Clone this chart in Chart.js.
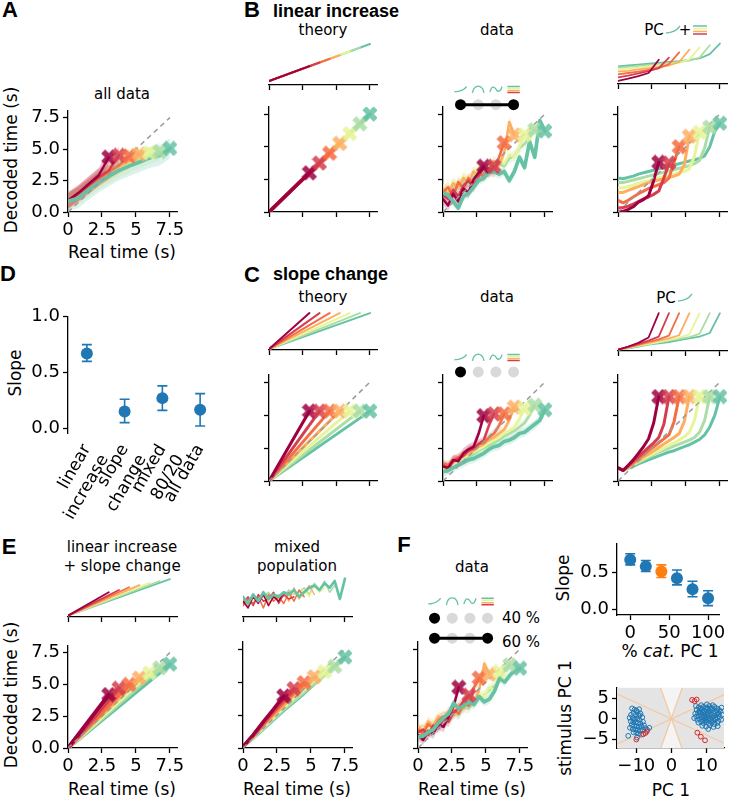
<!DOCTYPE html>
<html lang="en">
<head>
<meta charset="UTF-8">
<title>Decoded time</title>
<script src="https://cdn.jsdelivr.net/npm/chart.js@4.4.1/dist/chart.umd.min.js"></script>
<style>
  html, body { margin: 0; padding: 0; background: #fff; }
  #fig { position: relative; width: 730px; height: 798px; overflow: hidden; font-family: 'DejaVu Sans', sans-serif; color: #000; }
  .t { position: absolute; white-space: nowrap; transform: translate(-50%, -50%); line-height: 1; }
  .lab { font-size: 17px; }
  .ttl { font-size: 15px; }
  .letter { font-family: 'Liberation Sans', Arial, sans-serif; font-weight: bold; font-size: 22px; }
  .bold { font-family: 'Liberation Sans', Arial, sans-serif; font-weight: bold; font-size: 18px; transform: translate(0, -50%); }
  .rot { transform: translate(-50%, -50%) rotate(-90deg); }
  canvas { position: absolute; }
</style>
</head>
<body>
<div id="fig">
  <div class="t letter" style="left:10px;top:10px">A</div>
  <div class="t letter" style="left:252px;top:10px">B</div>
  <div class="t bold" style="left:273px;top:11px">linear increase</div>
  <div class="t ttl" style="left:122px;top:94px">all data</div>
  <div class="t ttl" style="left:323px;top:30px">theory</div>
  <div class="t ttl" style="left:497px;top:30px">data</div>
  <div class="t ttl" style="left:654px;top:30px">PC</div>
  <div class="t ttl" style="left:685px;top:30px">+</div>
  <div class="t lab rot" style="left:11px;top:160px">Decoded time (s)</div>
  <div class="t lab" style="left:122px;top:252px">Real time (s)</div>

  <div class="t letter" style="left:8px;top:274px">D</div>
  <div class="t letter" style="left:252px;top:275px">C</div>
  <div class="t bold" style="left:273px;top:274px">slope change</div>
  <div class="t ttl" style="left:323px;top:297px">theory</div>
  <div class="t ttl" style="left:497px;top:297px">data</div>
  <div class="t ttl" style="left:666px;top:298px">PC</div>
  <div class="t lab rot" style="left:15px;top:373px">Slope</div>

  <div class="t letter" style="left:9px;top:547px">E</div>
  <div class="t ttl" style="left:122px;top:547px">linear increase</div>
  <div class="t ttl" style="left:122px;top:566px">+ slope change</div>
  <div class="t ttl" style="left:297px;top:547px">mixed</div>
  <div class="t ttl" style="left:297px;top:566px">population</div>
  <div class="t letter" style="left:404px;top:545px">F</div>
  <div class="t ttl" style="left:472px;top:567px">data</div>
  <div class="t ttl" style="left:521px;top:618px">40 %</div>
  <div class="t ttl" style="left:521px;top:642px">60 %</div>
  <div class="t lab rot" style="left:11px;top:695px">Decoded time (s)</div>
  <div class="t lab" style="left:122px;top:789px">Real time (s)</div>
  <div class="t lab" style="left:297px;top:789px">Real time (s)</div>
  <div class="t lab" style="left:472px;top:789px">Real time (s)</div>
  <div class="t lab rot" style="left:563px;top:578px">Slope</div>
  <div class="t lab" style="left:670px;top:651px">% <i>cat.</i> PC 1</div>
  <div class="t lab rot" style="left:565px;top:718px">stimulus PC 1</div>
  <div class="t lab" style="left:671px;top:790px">PC 1</div>
</div>

<script>
// ---------- data ----------
const durations = [3, 3.75, 4.5, 5.25, 6, 6.75, 7.5];
const colors = ['#9e0142', '#d53e4f', '#f46d43', '#fdae61', '#e6f598', '#abdda4', '#66c2a5'];
const tCoarse = [0, 0.75, 1.5, 2.25, 3, 3.75, 4.5, 5.25, 6, 6.75, 7.5];
const tFine = [0, 0.375, 0.75, 1.125, 1.5, 1.875, 2.25, 2.625, 3, 3.375, 3.75, 4.125, 4.5, 4.875, 5.25, 5.625, 6, 6.375, 6.75, 7.125, 7.5];
const timeTicks = [0, 2.5, 5, 7.5];
const timeTickLabels = ['0', '2.5', '5', '7.5'];
const decodedTickLabels = ['0.0', '2.5', '5.0', '7.5'];
const diagonal = [0, 7.5];

// A: all data (coarse grid)
const allDataCurves = [
  [0.9, 1.5, 2.2, 2.9, 4.35],
  [0.9, 1.45, 2.1, 2.75, 3.3, 4.5],
  [0.85, 1.4, 2.05, 2.65, 3.2, 3.7, 4.45],
  [0.9, 1.4, 2.0, 2.6, 3.1, 3.6, 4.0, 4.6],
  [0.85, 1.35, 1.95, 2.55, 3.05, 3.5, 3.9, 4.3, 4.7],
  [0.85, 1.3, 1.9, 2.45, 2.95, 3.4, 3.8, 4.15, 4.5, 4.8],
  [0.85, 1.1, 1.75, 2.35, 2.85, 3.3, 3.65, 3.95, 4.3, 4.5, 5.05]
];
const allDataMarkers = [4.35, 4.5, 4.45, 4.6, 4.7, 4.8, 5.05];
const allDataErr = [0.6, 0.7, 0.6, 0.6, 0.6, 0.7, 0.8];

// B: linear increase
const linTheoryEnd = [3, 3.75, 4.5, 5.25, 6, 6.75, 7.5];
const linTheoryMiniStart = 0.09;
const linTheoryMiniEnd = [0.42, 0.5, 0.58, 0.66, 0.75, 0.83, 0.91];
const linDataCurves = [
  [1.0, 0.5, 1.4, 0.8, 1.8, 1.5, 2.5, 3.0, 3.5],
  [1.3, 1.0, 1.7, 1.2, 2.0, 2.4, 1.9, 2.8, 3.4, 3.0, 3.5],
  [1.5, 1.9, 1.2, 2.3, 1.8, 2.6, 2.2, 3.0, 2.7, 3.3, 3.0, 4.2, 5.3],
  [1.8, 1.4, 2.2, 1.9, 2.6, 2.3, 3.1, 2.8, 3.4, 3.2, 3.9, 3.6, 4.5, 6.9, 5.9],
  [2.0, 1.6, 2.3, 2.0, 2.7, 2.5, 3.0, 3.4, 3.1, 3.6, 3.4, 3.9, 3.7, 4.4, 4.2, 5.0, 5.9],
  [1.7, 1.3, 2.0, 1.8, 2.4, 2.2, 2.8, 3.1, 2.9, 3.4, 3.2, 3.7, 3.5, 4.1, 4.3, 4.9, 5.2, 5.8, 6.3],
  [1.45, 1.3, 0.8, 0.3, 1.2, 1.4, 1.9, 2.4, 2.6, 3.0, 3.1, 2.9, 3.1, 2.4, 3.1, 4.2, 3.4, 5.4, 4.2, 7.0, 6.2]
];
const linDataMarkers = [3.5, 3.5, 5.3, 5.9, 5.9, 6.3, 6.2];
const linDataErr = [0.45, 0.4, 0.4, 0.4, 0.4, 0.4, 0.35];
const linPcCurves = [
  [0.0, 0.05, 0.2, 0.4, 0.75, 0.95, 1.25, 2.4, 3.8],
  [0.3, 0.35, 0.45, 0.6, 0.8, 1.0, 1.15, 1.35, 1.6, 2.6, 3.7],
  [0.9, 0.7, 0.9, 1.15, 1.4, 1.6, 1.8, 1.95, 2.1, 2.25, 2.6, 3.8, 5.0],
  [1.5, 1.5, 1.65, 1.8, 1.95, 2.1, 2.25, 2.35, 2.45, 2.55, 2.65, 2.75, 2.9, 3.6, 5.8],
  [1.85, 1.85, 1.95, 2.05, 2.2, 2.3, 2.4, 2.5, 2.6, 2.7, 2.8, 2.9, 3.0, 3.1, 3.3, 4.3, 6.1],
  [2.25, 2.25, 2.35, 2.45, 2.55, 2.65, 2.75, 2.85, 2.95, 3.05, 3.15, 3.25, 3.35, 3.45, 3.55, 3.7, 3.95, 4.9, 6.5],
  [2.6, 2.55, 2.65, 2.75, 2.9, 3.0, 3.1, 3.2, 3.3, 3.4, 3.5, 3.6, 3.7, 3.8, 3.9, 4.0, 4.1, 4.3, 5.0, 6.2, 6.8]
];
const linPcMarkers = [3.8, 3.75, 5.0, 5.8, 6.1, 6.5, 6.8];
const linPcMini = [
  [0.07, 0.12, 0.18, 0.25, 0.55],
  [0.15, 0.19, 0.24, 0.29, 0.36, 0.6],
  [0.22, 0.25, 0.28, 0.32, 0.36, 0.45, 0.72],
  [0.28, 0.3, 0.33, 0.36, 0.39, 0.42, 0.5, 0.78],
  [0.33, 0.35, 0.37, 0.4, 0.42, 0.45, 0.48, 0.56, 0.83],
  [0.37, 0.39, 0.41, 0.43, 0.45, 0.48, 0.5, 0.53, 0.6, 0.88],
  [0.4, 0.42, 0.44, 0.46, 0.48, 0.5, 0.52, 0.55, 0.58, 0.68, 0.92]
];

// C: slope change
const slopeTheoryEnd = [5.3, 5.3, 5.3, 5.3, 5.3, 5.3, 5.3];
const slopeTheoryMiniStart = 0.02;
const slopeTheoryMiniEnd = [0.82, 0.82, 0.82, 0.82, 0.82, 0.82, 0.82];
const slopeDataCurves = [
  [1.1, 1.0, 1.6, 1.5, 2.1, 2.4, 2.6, 3.6, 4.95],
  [1.2, 0.9, 1.5, 1.7, 1.9, 2.3, 2.5, 2.8, 3.1, 4.2, 5.1],
  [1.3, 1.2, 1.6, 1.8, 2.0, 2.3, 2.4, 2.8, 2.9, 3.3, 3.6, 4.2, 5.1],
  [1.0, 1.1, 1.4, 1.6, 1.9, 2.1, 2.3, 2.6, 2.8, 3.1, 3.3, 3.6, 3.9, 4.6, 5.6],
  [0.9, 1.0, 1.3, 1.5, 1.8, 2.0, 2.2, 2.4, 2.6, 2.9, 3.1, 3.3, 3.6, 3.8, 4.1, 4.7, 5.5],
  [0.8, 0.9, 1.2, 1.4, 1.6, 1.8, 2.0, 2.3, 2.5, 2.7, 2.9, 3.1, 3.4, 3.6, 3.8, 4.1, 4.4, 5.0, 5.75],
  [0.7, 0.8, 1.0, 1.2, 1.4, 1.6, 1.7, 1.9, 2.1, 2.4, 2.6, 2.7, 3.0, 3.1, 3.3, 3.6, 3.7, 4.0, 4.3, 4.6, 5.4]
];
const slopeDataMarkers = [4.95, 5.1, 5.1, 5.6, 5.5, 5.75, 5.4];
const slopeDataErr = [0.4, 0.35, 0.35, 0.35, 0.35, 0.35, 0.35];
const slopePcCurves = [
  [1.0, 0.8, 1.2, 1.6, 2.1, 2.6, 3.2, 4.4, 6.4],
  [1.0, 0.8, 1.15, 1.5, 1.85, 2.2, 2.55, 2.9, 3.3, 4.3, 6.4],
  [1.0, 0.8, 1.1, 1.4, 1.7, 2.0, 2.3, 2.6, 2.9, 3.2, 3.5, 4.5, 6.4],
  [1.0, 0.8, 1.05, 1.3, 1.55, 1.8, 2.05, 2.3, 2.55, 2.8, 3.05, 3.3, 3.6, 4.5, 6.4],
  [1.0, 0.8, 1.0, 1.25, 1.5, 1.7, 1.9, 2.1, 2.3, 2.5, 2.7, 2.9, 3.1, 3.35, 3.7, 4.6, 6.4],
  [1.0, 0.8, 1.0, 1.2, 1.4, 1.6, 1.8, 2.0, 2.2, 2.35, 2.5, 2.65, 2.8, 2.95, 3.1, 3.3, 3.7, 4.6, 6.4],
  [1.0, 0.8, 0.95, 1.1, 1.3, 1.45, 1.6, 1.75, 1.9, 2.05, 2.2, 2.3, 2.45, 2.6, 2.75, 2.95, 3.15, 3.5, 4.1, 5.0, 6.4]
];
const slopePcMarkers = [6.4, 6.4, 6.4, 6.4, 6.4, 6.4, 6.4];
const slopePcMini = [
  [0.03, 0.1, 0.18, 0.3, 0.84],
  [0.03, 0.09, 0.16, 0.23, 0.32, 0.84],
  [0.03, 0.08, 0.14, 0.2, 0.26, 0.34, 0.84],
  [0.03, 0.08, 0.13, 0.18, 0.23, 0.28, 0.35, 0.84],
  [0.03, 0.07, 0.12, 0.16, 0.2, 0.25, 0.3, 0.37, 0.84],
  [0.03, 0.07, 0.11, 0.15, 0.19, 0.23, 0.27, 0.31, 0.38, 0.84],
  [0.03, 0.06, 0.1, 0.14, 0.17, 0.2, 0.24, 0.28, 0.32, 0.4, 0.84]
];

// D: slope summary
const dCategories = [['linear', 'increase'], ['slope', 'change'], ['mixed', '80/20'], 'all data'];
const dSlope = [0.67, 0.15, 0.27, 0.165];
const dLow = [0.60, 0.05, 0.16, 0.02];
const dHigh = [0.75, 0.26, 0.38, 0.31];

// E: model mixtures
const comboEnd = [4.2, 4.7, 5.0, 5.5, 5.9, 6.3, 6.6];
const comboMiniStart = 0.03;
const comboMiniEnd = [0.55, 0.6, 0.66, 0.71, 0.76, 0.8, 0.84];
const mixedCurves = [
  [0.1, 1.0, 2.0, 2.95, 3.95],
  [0.1, 0.95, 1.9, 2.8, 3.65, 4.5],
  [0.1, 0.9, 1.8, 2.65, 3.45, 4.2, 4.95],
  [0.1, 0.85, 1.7, 2.5, 3.25, 4.0, 4.7, 5.4],
  [0.1, 0.8, 1.6, 2.35, 3.1, 3.8, 4.45, 5.15, 5.8],
  [0.1, 0.8, 1.5, 2.2, 2.95, 3.6, 4.25, 4.9, 5.55, 6.2],
  [0.1, 0.75, 1.45, 2.15, 2.85, 3.5, 4.15, 4.85, 5.55, 6.2, 6.9]
];
const mixedMarkers = [3.95, 4.5, 4.95, 5.4, 5.8, 6.2, 6.9];
const mixedMini = [
  [0.35, 0.2, 0.45, 0.3, 0.5, 0.25, 0.45, 0.35, 0.55],
  [0.3, 0.45, 0.25, 0.5, 0.35, 0.4, 0.55, 0.3, 0.5, 0.4, 0.45],
  [0.25, 0.4, 0.3, 0.45, 0.2, 0.5, 0.35, 0.45, 0.3, 0.55, 0.35, 0.6, 0.45],
  [0.4, 0.25, 0.45, 0.35, 0.5, 0.3, 0.45, 0.4, 0.55, 0.35, 0.65, 0.4, 0.55, 0.7, 0.5],
  [0.3, 0.45, 0.35, 0.4, 0.5, 0.35, 0.55, 0.4, 0.5, 0.45, 0.55, 0.5, 0.6, 0.45, 0.7, 0.55, 0.65],
  [0.35, 0.3, 0.5, 0.4, 0.45, 0.55, 0.4, 0.5, 0.45, 0.6, 0.5, 0.55, 0.65, 0.5, 0.75, 0.6, 0.8, 0.55, 0.7],
  [0.45, 0.3, 0.5, 0.35, 0.55, 0.4, 0.5, 0.45, 0.55, 0.5, 0.6, 0.45, 0.55, 0.65, 0.7, 0.6, 0.75, 0.65, 0.8, 0.4, 0.85]
];

// F: data with 60 % categorical PCs
const fDataCurves = [
  [1.0, 0.6, 1.3, 1.1, 1.8, 1.6, 2.4, 3.2, 4.6],
  [1.2, 1.4, 1.0, 1.7, 1.5, 2.2, 2.0, 2.7, 3.0, 3.6, 4.0],
  [1.4, 1.1, 1.8, 1.5, 2.1, 2.4, 2.2, 2.9, 2.6, 3.4, 3.2, 4.6, 5.3],
  [1.6, 1.3, 2.0, 1.7, 2.4, 2.2, 2.8, 2.5, 3.3, 3.0, 3.8, 3.5, 4.4, 6.4, 5.6],
  [1.3, 1.6, 1.4, 2.0, 1.9, 2.5, 2.3, 3.0, 2.8, 3.3, 3.6, 3.4, 4.1, 3.9, 4.6, 4.4, 5.8],
  [1.0, 1.3, 1.1, 1.7, 1.6, 2.1, 2.0, 2.6, 2.5, 3.1, 3.0, 3.5, 3.8, 4.0, 4.4, 4.7, 5.2, 5.9, 6.3],
  [0.85, 0.9, 1.2, 1.4, 1.9, 2.3, 2.6, 3.4, 3.0, 3.2, 3.5, 3.3, 3.9, 3.5, 3.7, 4.3, 5.3, 5.0, 5.5, 5.9, 6.05]
];
const fDataMarkers = [4.6, 4.0, 5.3, 5.6, 5.8, 6.3, 6.05];
const fDataErr = [0.4, 0.4, 0.4, 0.4, 0.4, 0.4, 0.35];

const fCat = [0, 20, 40, 60, 80, 100];
const fSlope = [0.67, 0.58, 0.51, 0.42, 0.27, 0.15];
const fLow = [0.60, 0.51, 0.43, 0.33, 0.17, 0.05];
const fHigh = [0.75, 0.66, 0.60, 0.53, 0.38, 0.25];
const fSlopeColors = ['#1f77b4', '#1f77b4', '#ff7f0e', '#1f77b4', '#1f77b4', '#1f77b4'];

const pcLeftBlue = [[-11.2,2.6],[-10.5,2.3],[-9.8,1.9],[-9.2,2.4],[-10.8,1.5],[-11.5,1.0],[-10.1,1.1],[-9.4,0.8],[-8.8,1.3],[-11.9,0.3],
  [-11.0,0.2],[-10.4,-0.1],[-9.7,0.1],[-9.0,-0.3],[-8.3,0.4],[-11.6,-0.6],[-10.9,-0.8],[-10.2,-0.9],[-9.5,-1.0],[-8.8,-1.2],
  [-8.1,-0.7],[-11.3,-1.5],[-10.6,-1.7],[-9.9,-1.8],[-9.2,-2.0],[-8.5,-1.9],[-7.8,-1.6],[-11.8,-2.2],[-11.0,-2.5],[-10.3,-2.6],
  [-9.6,-2.8],[-8.9,-2.9],[-8.2,-2.6],[-7.4,-2.3],[-10.8,-3.3],[-10.0,-3.4],[-9.3,-3.6],[-8.6,-3.9],[-6.9,-2.7],[-6.3,-2.2],
  [-12.3,-4.2],[-9.8,-4.6],[-10.6,-0.3],[-9.0,0.9],[-10.0,2.0]];
const pcLeftRed = [[-8.0,-3.8],[-7.4,-3.5],[-7.0,-3.1],[-10.0,-5.1]];
const pcRightBlue = [[7.0,3.2],[7.8,2.9],[8.5,3.4],[9.2,3.0],[10.0,2.8],[10.8,3.2],[11.5,2.7],[12.3,3.0],[13.0,2.6],[13.6,2.2],
  [7.2,2.2],[8.0,2.0],[8.7,2.4],[9.4,2.1],[10.2,2.3],[10.9,1.9],[11.7,2.2],[12.5,1.8],[13.3,1.6],[14.0,1.9],
  [6.8,1.3],[7.6,1.5],[8.3,1.2],[9.0,1.6],[9.7,1.3],[10.5,1.5],[11.2,1.1],[12.0,1.4],[12.8,1.0],[13.5,1.2],
  [7.1,0.6],[7.9,0.8],[8.6,0.4],[9.3,0.9],[10.0,0.6],[10.8,0.8],[11.5,0.4],[12.2,0.7],[13.0,0.3],[13.8,0.5],
  [7.4,-0.2],[8.2,0.0],[8.9,-0.3],[9.6,0.1],[10.4,-0.2],[11.1,0.0],[11.9,-0.4],[12.6,-0.1],[13.4,-0.5],[14.2,-0.2],
  [7.7,-0.9],[8.5,-0.7],[9.2,-1.1],[10.0,-0.8],[10.7,-1.2],[11.5,-0.9],[12.3,-1.3],[13.1,-1.0],
  [8.8,-1.7],[9.9,-1.9],[11.0,-1.6],[12.0,-2.0],[13.2,-1.8],[10.5,-2.5],
  [9.5,1.9],[10.3,1.0],[11.0,2.5],[8.1,1.7],[12.9,2.1],[9.8,-0.4],[11.3,-0.3],[10.6,0.2],[9.1,0.3],[12.4,0.2],
  [14.5,1.0],[14.3,2.8],[6.5,0.2],[8.4,2.6],[11.8,3.4],[10.1,3.6]];
const pcRightRed = [[5.9,4.7],[6.6,4.4],[7.2,4.8],[7.4,-3.4],[8.4,-4.4],[9.6,-5.3]];
const boundaryLines = [[[-15.5,-6.2],[15.5,6.2]], [[-15.5,6.2],[15.5,-6.2]], [[-3.1,7.7],[3.0,-7.2]], [[3.1,7.7],[-3.0,-7.2]]];
const lightWedge = [[0,0],[-3.1,7.7],[3.1,7.7],[0,0],[3.0,-7.2],[-3.0,-7.2],[0,0]];

// legend glyphs (slot units)
const iconRamp = [[-0.35,0.15],[-0.15,0.12],[0.05,0.06],[0.2,-0.04],[0.35,-0.2]];
const iconBump = [[-0.33,0.22],[-0.25,-0.05],[-0.1,-0.2],[0.1,-0.2],[0.25,-0.05],[0.33,0.22]];
const iconWave = [[-0.35,0.15],[-0.2,-0.15],[-0.05,-0.1],[0.1,0.1],[0.25,0.05],[0.35,-0.2]];
const iconBarOffsets = [-0.2, -0.07, 0.07, 0.2];
const iconBarColors = ['#66c2a5', '#e6f598', '#fdae61', '#d53e4f'];

// ---------- helpers ----------
Chart.defaults.font.family = "'DejaVu Sans'";
Chart.defaults.font.size = 18;
Chart.defaults.color = '#000';
const fig = document.getElementById('fig');

function hexA(h, a) {
  const n = parseInt(h.slice(1), 16);
  return `rgba(${n >> 16},${(n >> 8) & 255},${n & 255},${a})`;
}

function xMarker(color) {
  const c = document.createElement('canvas');
  c.width = c.height = 16;
  const g = c.getContext('2d');
  g.translate(8, 8);
  g.rotate(Math.PI / 4);
  g.globalAlpha = 0.85;
  g.fillStyle = color;
  g.beginPath();
  g.rect(-8, -2.8, 16, 5.6);
  g.rect(-2.8, -8, 5.6, 16);
  g.fill('nonzero');
  return c;
}
const xMarks = colors.map(xMarker);

function addCanvas(l, t, w, h) {
  const cv = document.createElement('canvas');
  cv.width = w; cv.height = h;
  cv.style.left = l + 'px'; cv.style.top = t + 'px';
  cv.style.width = w + 'px'; cv.style.height = h + 'px';
  fig.appendChild(cv);
  return cv;
}

function ax(min, max, ticks, labels, o = {}) {
  return {
    type: 'linear', min, max,
    border: { display: o.border !== false, color: '#000', width: 1.3 },
    grid: { display: o.marks !== false, drawOnChartArea: false, drawTicks: true, tickLength: 5, tickWidth: 1.3, tickColor: '#000' },
    afterBuildTicks: s => { s.ticks = ticks.map(v => ({ value: v })); },
    ticks: { display: !!labels, autoSkip: false, minRotation: o.rot || 0, maxRotation: o.rot || 0, padding: 3,
      font: o.font ? { size: o.font } : undefined,
      callback: (v, i) => labels ? labels[i] : '' }
  };
}

function plot(box, datasets, x, y, o = {}) {
  const m = Object.assign({ l: 46, r: 18, t: 10, b: 44 }, o.margin || {});
  const W = box.w + m.l + m.r, H = box.h + m.t + m.b;
  const cv = addCanvas(box.l - m.l, box.t - m.t, W, H);
  x.afterFit = s => { s.height = m.b; };
  y.afterFit = s => { s.width = m.l; };
  return new Chart(cv, {
    type: 'line',
    data: { datasets },
    options: {
      responsive: false, animation: false, devicePixelRatio: 1,
      layout: { padding: { top: m.t, right: m.r, left: 0, bottom: 0 } },
      plugins: { legend: { display: false }, tooltip: { enabled: false } },
      scales: { x, y }
    },
    plugins: o.plugins || []
  });
}

function lineSet(points, color, width) {
  return { data: points, borderColor: color, borderWidth: width, pointRadius: 0, fill: false, tension: 0,
    borderJoinStyle: 'round', borderCapStyle: 'round' };
}
function curveSets(grid, curves, width, tealTop) {
  const sets = curves.map((vals, k) =>
    lineSet(vals.map((v, i) => ({ x: grid[i], y: v })), colors[k], k === 6 && tealTop ? width + 1.2 : width));
  if (tealTop) sets.unshift(sets.pop());
  return sets;
}
function straightSets(start, ends, width) {
  return ends.map((e, k) => lineSet([{ x: 0, y: start }, { x: durations[k], y: e }], colors[k], width));
}
function bandSets(grid, curves, errs, alpha) {
  const out = [];
  curves.forEach((vals, k) => {
    out.push({ data: vals.map((v, i) => ({ x: grid[i], y: v + errs[k] })), borderWidth: 0, pointRadius: 0, fill: false });
    out.push({ data: vals.map((v, i) => ({ x: grid[i], y: v - errs[k] })), borderWidth: 0, pointRadius: 0,
      fill: '-1', backgroundColor: hexA(colors[k], alpha) });
  });
  return out;
}
function markerSet(ends) {
  return { data: ends.map((y, k) => ({ x: durations[k], y })), showLine: false, pointStyle: xMarks, pointRadius: 8 };
}
function diagSet() {
  return { data: diagonal.map(v => ({ x: v, y: v })), borderColor: '#9a9a9a', borderWidth: 1.5, borderDash: [5, 4], pointRadius: 0, fill: false };
}

const mainX = (labels) => ax(0, 8.02, timeTicks, labels);
const mainY = (labels) => ax(0, 8.04, timeTicks, labels);
const miniX = () => ax(0, 8.02, timeTicks, null);
const miniY = () => ax(0, 1, [], null, { border: false, marks: false });
const miniM = { margin: { b: 6, t: 4 } };

function main(box, sets, xl, yl) { return plot(box, sets, mainX(xl), mainY(yl)); }
function mini(box, sets) { return plot(box, sets, miniX(), miniY(), miniM); }

// ---------- A ----------
main({ l: 68, t: 107, w: 109, h: 105 },
  [markerSet(allDataMarkers), diagSet(), ...curveSets(tCoarse, allDataCurves, 2.5, true), ...bandSets(tCoarse, allDataCurves, allDataErr, 0.22)],
  timeTickLabels, decodedTickLabels);

// ---------- B ----------
mini({ l: 269, t: 40, w: 108, h: 45 }, straightSets(linTheoryMiniStart, linTheoryMiniEnd, 2));
main({ l: 269, t: 107, w: 108, h: 105 },
  [markerSet(linTheoryEnd), ...straightSets(0, linTheoryEnd, 3.5)], null, null);
main({ l: 443, t: 107, w: 109, h: 105 },
  [markerSet(linDataMarkers), diagSet(), ...curveSets(tFine, linDataCurves, 2.5, true), ...bandSets(tFine, linDataCurves, linDataErr, 0.2)],
  null, null);
mini({ l: 618, t: 40, w: 109, h: 44 }, curveSets(tCoarse, linPcMini, 1.8, false));
main({ l: 618, t: 107, w: 109, h: 105 },
  [markerSet(linPcMarkers), diagSet(), ...curveSets(tFine, linPcCurves, 3, false)], null, null);

// ---------- C ----------
mini({ l: 269, t: 305, w: 108, h: 45 }, straightSets(slopeTheoryMiniStart, slopeTheoryMiniEnd, 2));
main({ l: 269, t: 375, w: 108, h: 106 },
  [markerSet(slopeTheoryEnd), diagSet(), ...straightSets(0, slopeTheoryEnd, 3)], null, null);
main({ l: 443, t: 375, w: 109, h: 106 },
  [markerSet(slopeDataMarkers), diagSet(), ...curveSets(tFine, slopeDataCurves, 2.5, true), ...bandSets(tFine, slopeDataCurves, slopeDataErr, 0.2)],
  null, null);
mini({ l: 618, t: 306, w: 109, h: 45 }, curveSets(tCoarse, slopePcMini, 1.8, false));
main({ l: 618, t: 375, w: 109, h: 106 },
  [markerSet(slopePcMarkers), diagSet(), ...curveSets(tFine, slopePcCurves, 3, false)], null, null);

// ---------- error-bar plots ----------
function errorSets(xs, ys, lo, hi, cols) {
  const sets = [{ data: xs.map((x, i) => ({ x, y: ys[i] })), showLine: false, pointRadius: 6,
    pointBackgroundColor: cols, pointBorderWidth: 0 }];
  xs.forEach((x, i) => sets.push({ data: [{ x, y: lo[i] }, { x, y: hi[i] }], borderColor: cols[i], borderWidth: 1.6,
    pointStyle: 'line', pointRadius: 5, pointBorderWidth: 1.6, pointBorderColor: cols[i], fill: false }));
  return sets;
}

// ---------- D ----------
plot({ l: 68, t: 313, w: 151, h: 120 },
  errorSets([0, 1, 2, 3], dSlope, dLow, dHigh, dSlope.map(() => '#1f77b4')),
  ax(-0.5, 3.5, [0, 1, 2, 3], dCategories, { border: false, marks: false, rot: 60, font: 17 }),
  ax(-0.043, 1.0, [0, 0.5, 1.0], ['0.0', '0.5', '1.0']),
  { margin: { b: 90, r: 10 } });

// ---------- E ----------
mini({ l: 68, t: 572, w: 109, h: 45 }, straightSets(comboMiniStart, comboMiniEnd, 1.8));
main({ l: 68, t: 642, w: 109, h: 106 },
  [markerSet(comboEnd), diagSet(), ...straightSets(0, comboEnd, 4)], timeTickLabels, decodedTickLabels);
mini({ l: 243, t: 572, w: 109, h: 45 }, curveSets(tFine, mixedMini, 1.5, true));
main({ l: 243, t: 642, w: 109, h: 106 },
  [markerSet(mixedMarkers), diagSet(), ...curveSets(tCoarse, mixedCurves, 3.5, false)], timeTickLabels, null);

// ---------- F ----------
main({ l: 418, t: 642, w: 109, h: 106 },
  [markerSet(fDataMarkers), diagSet(), ...curveSets(tFine, fDataCurves, 2.5, true), ...bandSets(tFine, fDataCurves, fDataErr, 0.2)],
  timeTickLabels, null);

plot({ l: 617, t: 540, w: 108, h: 75 },
  errorSets(fCat, fSlope, fLow, fHigh, fSlopeColors),
  ax(-17, 115, [0, 50, 100], ['0', '50', '100']),
  ax(-0.077, 0.885, [0, 0.5], ['0.0', '0.5']),
  { margin: { r: 4 } });

const greyBg = {
  id: 'greyBg',
  beforeDatasetsDraw(ch) {
    const a = ch.chartArea, g = ch.ctx;
    g.save(); g.fillStyle = '#e4e4e4'; g.fillRect(a.left, a.top, a.right - a.left, a.bottom - a.top); g.restore();
  }
};
const openPts = (pts, col) => ({ data: pts.map(p => ({ x: p[0], y: p[1] })), showLine: false, pointRadius: 2.4,
  pointBorderWidth: 1, pointBorderColor: col, pointBackgroundColor: 'rgba(0,0,0,0)' });
plot({ l: 617, t: 684, w: 108, h: 64 },
  [openPts(pcLeftRed, '#d62728'), openPts(pcRightRed, '#d62728'), openPts(pcLeftBlue, '#1f77b4'), openPts(pcRightBlue, '#1f77b4'),
   ...boundaryLines.map(l => lineSet(l.map(p => ({ x: p[0], y: p[1] })), '#f3c9a3', 1.3)),
   { data: lightWedge.map(p => ({ x: p[0], y: p[1] })), fill: 'shape', backgroundColor: '#f4f4f4', borderWidth: 0, pointRadius: 0 }],
  ax(-15.5, 15, [-10, 0, 10], ['\u221210', '0', '10']),
  ax(-7.2, 7.7, [-5, 0, 5], ['\u22125', '0', '5']),
  { margin: { r: 4 }, plugins: [greyBg] });

// ---------- legend glyphs ----------
function legendChart(l, t, W, H, ox, oy, datasets) {
  const cv = addCanvas(l, t, W, H);
  new Chart(cv, {
    type: 'line', data: { datasets },
    options: { responsive: false, animation: false, devicePixelRatio: 1, layout: { padding: 0 },
      plugins: { legend: { display: false }, tooltip: { enabled: false } },
      scales: { x: { type: 'linear', display: false, min: -ox / 20, max: (W - ox) / 20 },
                y: { type: 'linear', display: false, reverse: true, min: -oy / 20, max: (H - oy) / 20 } } }
  });
}
function iconSet(shape, slot, row) {
  return { data: shape.map(p => ({ x: p[0] + slot, y: p[1] + row })), borderColor: '#66c2a5', borderWidth: 1.3,
    pointRadius: 0, tension: 0.4, fill: false };
}
function barsIcon(slot, row) {
  return iconBarOffsets.map((dy, k) => ({ data: [{ x: slot - 0.35, y: row + dy }, { x: slot + 0.35, y: row + dy }],
    borderColor: iconBarColors[k], borderWidth: 1.5, pointRadius: 0 }));
}
function dotsRow(states, row, link) {
  const black = [], grey = [];
  states.forEach((s, i) => (s ? black : grey).push({ x: i, y: row }));
  const sets = [{ data: black, showLine: false, pointRadius: 5.5, pointBackgroundColor: '#000', pointBorderWidth: 0 }];
  if (link) sets.push({ data: link.map(i => ({ x: i, y: row })), borderColor: '#000', borderWidth: 3, pointRadius: 0 });
  sets.push({ data: grey, showLine: false, pointRadius: 5.5, pointBackgroundColor: '#d9d9d9', pointBorderWidth: 0 });
  return sets;
}
const iconRow = row => [iconSet(iconRamp, 0, row), iconSet(iconBump, 1, row), iconSet(iconWave, 2, row), ...barsIcon(3, row)];

const bDots = [1, 0, 0, 1], bLink = [0, 3];
const cDots = [1, 0, 0, 0];
const fDots40 = [1, 0, 0, 0];
const fDots60 = [1, 0, 0, 1], fLink60 = [0, 3];

legendChart(440, 75, 95, 45, 17, 12, [...dotsRow(bDots, 1, bLink), ...iconRow(0)]);
legendChart(440, 343, 95, 45, 17, 12, [...dotsRow(cDots, 0.95, null), ...iconRow(0)]);
legendChart(414, 586, 95, 66, 17, 12, [...dotsRow(fDots40, 1, null), ...dotsRow(fDots60, 2.2, fLink60), ...iconRow(0)]);
legendChart(662, 20, 50, 20, 11, 10, [iconSet(iconRamp, 0, 0), ...barsIcon(1.35, 0)]);
legendChart(675, 288, 22, 20, 10, 10, [iconSet(iconRamp, 0, 0)]);
</script>
</body>
</html>
